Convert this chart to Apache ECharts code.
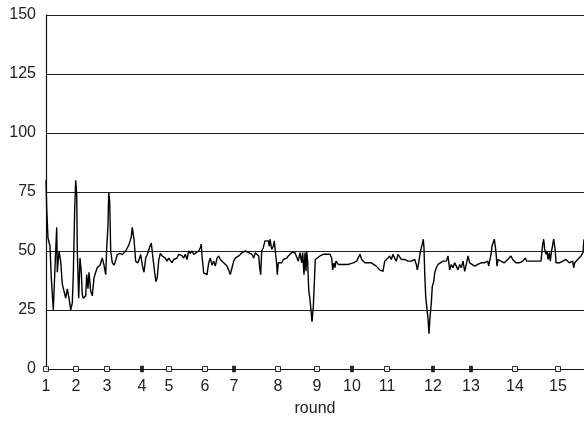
<!DOCTYPE html>
<html>
<head>
<meta charset="utf-8">
<script src="https://cdn.jsdelivr.net/npm/echarts@6/dist/echarts.min.js"></script>
<style>html,body{margin:0;padding:0;background:#fff}#c{width:584px;height:423px}</style>
</head>
<body>
<div id="c"></div>
<script>
// round labels and their positions on the time axis (time steps)
const roundLabels = ['1','2','3','4','5','6','7','8','9','10','11','12','13','14','15'];
const roundPos = [0, 30, 61, 96, 123, 159, 188, 232, 271, 306, 341, 387, 425, 469, 512];
const filledRounds = ['4','7','10','12','13'];
const yTicks = [0, 25, 50, 75, 100, 125, 150];

// time steps and values of the series
const times = [0,0.7,2,4,5.3,7.3,8.7,10.7,11.3,13,14.7,16.3,18,19.7,21.3,23,24.7,26.3,27.3,28.7,29.7,30.7,31.3,32.7,34,35.3,36.3,37.3,39.7,40.7,42,43,44.7,46.3,48,49.7,51.3,54,56.3,58,59.7,60.7,62,62.7,63.7,64.7,66.3,68,69.7,71.3,74,76.3,79.7,83,85.3,86.3,88,89.7,92,94.7,96.3,98,99.7,101.3,104,105.3,106.7,108.7,110,111.3,112.7,114.3,116,117.7,119.3,121,122.7,124.3,126,127.7,129.3,131,132.7,134.3,136,137.7,139.3,141,142.7,144.3,146,147.7,149.3,152.7,154.3,155.3,156,157.7,159.3,161,162.7,164.3,166,167.7,169.3,171,172.7,174.3,176,177.7,179.3,181,182.7,184.3,186,187.7,189.3,192.7,194.3,196,199.3,202.7,204.3,206,207.7,209.3,211,212.7,213.7,214.7,215.7,217.3,219,220.7,222.3,223.3,224,225.7,227.3,228.3,229.3,230.7,231.3,232.3,234,235.7,237.3,239,240.7,242.3,244,245.7,247.3,249,250.7,252.3,254,255.7,256.7,258,259,260,260.7,261.7,262.7,264,265,266,267.3,268.3,269.3,270.7,274,277.3,280.7,282.3,284,285.7,286.7,288,289,290,292.3,294,295.7,297.3,299,300.7,302.3,304,307.3,310.7,312.3,314,315.7,317.3,319,322.3,325.3,327,330.3,332,333.7,335.3,337,338.7,340.3,342,343.7,345.3,347,348.7,350.3,352,353.7,355.3,357,358.7,362,363.7,365.3,367,368.7,370.3,371.3,372.7,373.7,375.3,376.3,377.3,378,378.7,379.7,380.7,382,383,384,385.3,386.3,387.7,388.7,390.3,392,393.7,397,400.3,402,403.7,405.3,407,408.7,410.3,412,413.7,415.3,417,418.7,420.3,422,423.7,425.3,428.7,431.7,435,438.3,440,441.7,442.7,443.3,445,446,447.3,448.3,449.3,450,451,452,453.3,455,456.7,458.3,460,461.7,463.3,465,466.7,468.3,470,471.7,473.3,476.7,478.3,479.3,480.7,481.7,483.3,495,496.7,497.7,498.7,500,501,502,503.3,504.3,505.3,506.7,507.7,508.7,509.3,510,513.3,516.7,520,523.3,526.7,527.7,528.7,531.7,535,537,538];
const values = [80,68,55.5,52,38.6,25,40,60,41,50,45.6,36,33,30,34,30,25,28,40,68,80,74,50,30,47,41,31.5,30,31,40,34,41,33,31,38.6,41,43,44,47,44,40,51,61,75,71,50,45,44,46,48.5,49,48.5,50,52.7,56,60,55,45.6,45,48.5,44,41,47,48.5,52,53.4,48,40.7,37,39,46,49,48,48.6,47,45.7,47,46.4,45,46.4,45.7,47,48.6,48,48,47,48.6,46.4,50,49,50,48.6,49,50,51.4,52.9,48,40.7,40,40,45,47,44,45.7,43.6,47,47.9,46.4,46.4,45,44.3,43.6,42,40,42.9,45.7,47,47.9,48.6,49.3,50,49.3,50,48.6,47,49.3,50,47.9,42.9,40,50,51.4,54.3,55,54.3,52,55,50.7,52,54.3,50,44.3,40,45,45.7,45,46.4,45.7,47,47.9,48.6,49.3,50,49.3,50,45.7,49.3,45,49.3,40,49.3,41.4,50,45,33.6,29.3,25,20,26.4,36.4,46.4,47,47.9,48.6,48.6,49.3,48.6,47,42,45,43,45.7,44.3,45,44.3,45,44.3,43.6,44.3,45,45,45.7,46.4,48.6,46.4,45.7,45,45,45,44.3,43.6,42.9,42,41.4,41.4,45.7,46.4,47,47.9,46.4,48.6,47,45.7,48.6,49.3,46.4,45.7,46.4,45.7,46.4,45.7,45,46.4,44.3,42,45,47.9,51.4,52.9,55,51.4,40.7,30.7,26.4,21.4,15,22,27.9,35,37,40.7,42.9,44.3,45,45.7,45.7,47.9,42,44.3,42.9,45,43.6,42,44.3,42.9,45.7,41.4,44.3,47.9,45,44.3,43.6,44.3,45,45,45.7,45.7,43.6,45,48.6,52,52,55,52,49.3,43.6,46.4,47,45.7,46.4,45,45.7,46.4,47,47.9,46.4,45.7,45,45.7,45,45.7,45,47,45.7,46.4,45.7,45.7,52.9,55,50.7,48.6,50,46.4,49.3,45.7,49.3,50,55,55,50,45,45,45.7,46.4,45,45.7,42.9,45,46.4,47.9,49.3,55];

const seriesData = times.map((t, i) => [t, values[i]]);
const markerData = roundPos.map((p, i) => {
  const filled = filledRounds.indexOf(roundLabels[i]) >= 0;
  return {
    value: [p, 0],
    symbolSize: filled ? [3, 5] : 5,
    itemStyle: filled ? {color: '#000', borderColor: '#000', borderWidth: 1}
                      : {color: '#fff', borderColor: '#000', borderWidth: 1}
  };
});

const chart = echarts.init(document.getElementById('c'), null, {renderer: 'canvas'});
const font = 'Liberation Sans, Arial, sans-serif';
chart.setOption({
  animation: false,
  backgroundColor: '#fff',
  grid: {left: 46, right: 0, top: 15, bottom: 54, containLabel: false},
  xAxis: {
    type: 'value', min: 0, max: 538,
    name: 'round', nameLocation: 'middle', nameGap: 32,
    nameTextStyle: {fontFamily: font, fontSize: 16, color: '#222'},
    axisLine: {show: true, onZero: false, lineStyle: {color: '#111', width: 1.2}},
    axisTick: {show: false},
    splitLine: {show: false},
    axisLabel: {
      customValues: roundPos,
      formatter: v => { const i = roundPos.indexOf(v); return i >= 0 ? roundLabels[i] : ''; },
      fontFamily: font, fontSize: 16, color: '#222', margin: 10, showMinLabel: true, showMaxLabel: true
    }
  },
  yAxis: {
    type: 'value', min: 0, max: 150, interval: 25,
    axisLine: {show: true, lineStyle: {color: '#111', width: 1.2}},
    axisTick: {show: false},
    splitLine: {show: true, lineStyle: {color: '#222', width: 1.2}},
    axisLabel: {fontFamily: font, fontSize: 16, color: '#222', margin: 10,
      formatter: v => yTicks.indexOf(v) >= 0 ? String(v) : ''}
  },
  series: [
    {
      type: 'line', data: seriesData, showSymbol: false, symbol: 'none',
      lineStyle: {color: '#000', width: 1.4}, z: 3
    },
    {
      type: 'scatter', data: markerData, symbol: 'rect', clip: false, z: 4, silent: true
    }
  ]
});
</script>
</body>
</html>
